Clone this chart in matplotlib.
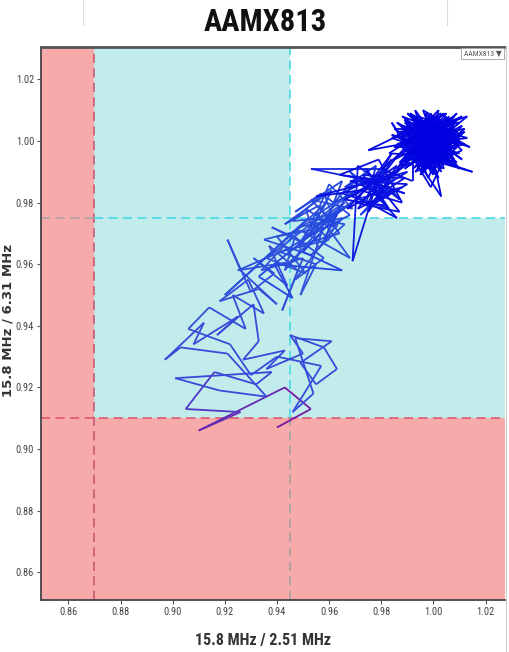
import numpy as np
import matplotlib
matplotlib.use("Agg")
import matplotlib.pyplot as plt
from matplotlib import font_manager
from matplotlib.collections import LineCollection
from matplotlib.colors import LinearSegmentedColormap
from matplotlib.lines import Line2D

title = "AAMX813"
x_label = "15.8 MHz / 2.51 MHz"
y_label = "15.8 MHz / 6.31 MHz"
legend_label = "AAMX813"
x_ticks = [0.86, 0.88, 0.90, 0.92, 0.94, 0.96, 0.98, 1.00, 1.02]
y_ticks = [0.86, 0.88, 0.90, 0.92, 0.94, 0.96, 0.98, 1.00, 1.02]
x_low, x_mid = 0.87, 0.945
y_low, y_mid = 0.91, 0.975

# trajectory pieces (x = 15.8/2.51 ratio, y = 15.8/6.31 ratio), in time order
path_lower = [
    (0.940, 0.907), (0.953, 0.913), (0.943, 0.920), (0.910, 0.906), (0.926, 0.912),
    (0.905, 0.913), (0.916, 0.925), (0.932, 0.921), (0.938, 0.925), (0.901, 0.923),
    (0.918, 0.919), (0.936, 0.917), (0.921, 0.931), (0.903, 0.933), (0.897, 0.929),
    (0.912, 0.941), (0.908, 0.934), (0.925, 0.943), (0.917, 0.937), (0.931, 0.947),
    (0.933, 0.935), (0.927, 0.929), (0.943, 0.932), (0.936, 0.926), (0.950, 0.931),
    (0.945, 0.937), (0.958, 0.933), (0.963, 0.926), (0.955, 0.921), (0.949, 0.928),
    (0.961, 0.935), (0.947, 0.936), (0.954, 0.918), (0.946, 0.912), (0.957, 0.927),
    (0.940, 0.930), (0.930, 0.924), (0.922, 0.934), (0.906, 0.939), (0.914, 0.946),
    (0.928, 0.939), (0.923, 0.950), (0.935, 0.944), (0.929, 0.955), (0.918, 0.948),
    (0.933, 0.952), (0.940, 0.947), (0.926, 0.958), (0.921, 0.968), (0.930, 0.951),
]
path_middle = [
    (0.939, 0.957), (0.931, 0.962), (0.944, 0.953), (0.937, 0.966), (0.948, 0.958),
    (0.942, 0.945), (0.950, 0.962), (0.934, 0.958), (0.946, 0.969), (0.938, 0.972),
    (0.952, 0.966), (0.944, 0.960), (0.957, 0.970), (0.949, 0.950), (0.955, 0.960),
    (0.941, 0.964), (0.960, 0.968), (0.953, 0.974), (0.945, 0.970), (0.958, 0.962),
    (0.947, 0.955), (0.962, 0.972), (0.951, 0.978), (0.956, 0.965), (0.965, 0.975),
    (0.948, 0.972), (0.943, 0.958), (0.954, 0.969), (0.961, 0.977), (0.950, 0.968),
    (0.966, 0.980), (0.957, 0.975), (0.946, 0.974), (0.958, 0.983), (0.963, 0.972),
    (0.953, 0.981), (0.969, 0.978), (0.960, 0.986), (0.955, 0.976), (0.970, 0.984),
]
path_middle_back = [
    (0.936, 0.962), (0.951, 0.957), (0.940, 0.969), (0.958, 0.972), (0.944, 0.965),
    (0.925, 0.958), (0.947, 0.961), (0.955, 0.977), (0.968, 0.962), (0.949, 0.971),
    (0.935, 0.968), (0.953, 0.963), (0.966, 0.973), (0.952, 0.975), (0.920, 0.950),
    (0.959, 0.980), (0.948, 0.966), (0.964, 0.970), (0.956, 0.979), (0.943, 0.973),
    (0.961, 0.984), (0.952, 0.969), (0.968, 0.976), (0.957, 0.983), (0.947, 0.977),
    (0.965, 0.987), (0.959, 0.974), (0.972, 0.982), (0.954, 0.972), (0.967, 0.979),
    (0.933, 0.956), (0.946, 0.949), (0.939, 0.960), (0.965, 0.958), (0.950, 0.964),
    (0.963, 0.976), (0.958, 0.968), (0.970, 0.988), (0.962, 0.980), (0.974, 0.985),
]
path_secondary = [
    (0.968, 0.990), (0.980, 0.982), (0.972, 0.976), (0.985, 0.988), (0.966, 0.985),
    (0.978, 0.992), (0.974, 0.979), (0.988, 0.985), (0.970, 0.981), (0.982, 0.991),
    (0.953, 0.991), (0.976, 0.987), (0.983, 0.978), (0.965, 0.983), (0.979, 0.989),
    (0.987, 0.981), (0.971, 0.992), (0.969, 0.961), (0.977, 0.983), (0.990, 0.990),
    (0.973, 0.986), (0.955, 0.982), (0.981, 0.985), (0.967, 0.978), (0.984, 0.994),
    (0.975, 0.980), (0.986, 0.975), (0.972, 0.988), (0.989, 0.983), (0.978, 0.986),
]
path_secondary_back = [
    (0.980, 0.988), (0.969, 0.982), (0.986, 0.992), (0.975, 0.977), (0.983, 0.987),
    (0.964, 0.989), (0.979, 0.994), (0.988, 0.980), (0.972, 0.984), (0.985, 0.990),
    (0.976, 0.979), (0.990, 0.986), (0.968, 0.987), (0.981, 0.983), (0.974, 0.991),
    (0.987, 0.977), (0.970, 0.980), (0.984, 0.996), (0.977, 0.985), (0.991, 0.993),
    (0.966, 0.981), (0.982, 0.979), (0.973, 0.989), (0.989, 0.988), (0.978, 0.982),
    (0.985, 0.984), (0.971, 0.978), (0.986, 0.995), (0.980, 0.991), (0.992, 0.987),
]
path_cluster = [
    (0.992, 0.996), (1.003, 1.001), (0.996, 0.993), (1.006, 0.998), (0.990, 1.002),
    (0.999, 1.005), (1.004, 0.995), (0.994, 0.999), (1.009, 1.003), (0.997, 0.991),
    (0.988, 0.998), (1.001, 1.007), (0.995, 0.994), (1.007, 1.000), (0.993, 1.004),
    (1.002, 0.992), (0.998, 1.001), (0.986, 0.995), (1.005, 1.006), (0.996, 0.998),
    (1.010, 0.996), (0.991, 1.000), (1.000, 0.989), (0.997, 1.003), (1.004, 0.999),
    (0.989, 0.993), (1.008, 1.004), (0.994, 1.008), (1.001, 0.996), (0.992, 0.991),
    (1.006, 1.002), (0.998, 0.997), (0.984, 1.001), (1.003, 1.009), (0.995, 0.995),
    (1.012, 0.999), (0.999, 1.002), (0.990, 0.997), (1.005, 0.993), (0.993, 1.005),
    (1.002, 1.000), (0.996, 0.990), (1.009, 1.007), (0.987, 0.999), (1.000, 1.004),
    (0.994, 0.996), (1.015, 0.990), (0.998, 0.994), (1.003, 1.003), (0.991, 1.009),
    (1.007, 0.997), (0.995, 1.001), (0.999, 0.992), (1.004, 1.006), (0.988, 1.003),
    (1.001, 0.998), (0.997, 1.006), (1.011, 1.002), (0.993, 0.993), (1.005, 1.000),
    (0.996, 1.003), (0.983, 0.996), (1.002, 0.995), (0.998, 1.008), (1.008, 0.994),
    (0.990, 0.999), (1.000, 1.002), (0.994, 0.991), (1.006, 1.004), (0.997, 0.997),
    (1.013, 1.008), (0.992, 1.002), (1.003, 0.990), (0.999, 1.000), (0.989, 1.006),
    (1.005, 0.998), (0.995, 0.993), (1.010, 1.001), (0.998, 1.004), (0.993, 0.997),
    (1.002, 1.006), (0.987, 0.992), (1.007, 0.996), (0.996, 1.002), (1.001, 0.993),
    (0.994, 1.007), (1.009, 0.999), (0.999, 0.995), (0.991, 1.001), (1.004, 1.003),
    (0.997, 0.999), (0.985, 0.989), (1.006, 1.008), (1.000, 0.997), (0.992, 1.004),
    (1.003, 0.998), (0.996, 0.995), (1.008, 1.002), (0.990, 0.998), (1.001, 1.001),
    (0.975, 0.997), (0.997, 1.006), (1.003, 0.982), (0.984, 1.006), (0.999, 0.985),
    (1.005, 0.996), (0.995, 1.000), (1.002, 0.998),
]
path_cluster_late = [
    (0.985, 0.998), (1.006, 1.004), (0.993, 0.990), (1.011, 0.997), (0.997, 1.007),
    (0.988, 1.001), (1.004, 0.991), (0.999, 1.009), (0.990, 0.994), (1.008, 1.001),
    (0.994, 1.004), (1.002, 0.988), (0.987, 1.003), (1.010, 1.006), (0.996, 0.996),
    (1.005, 1.008), (0.991, 0.992), (1.001, 1.003), (0.986, 0.999), (1.009, 0.993),
    (0.998, 1.002), (0.992, 1.008), (1.007, 0.999), (0.995, 0.989), (1.003, 1.005),
    (0.989, 0.997), (1.012, 1.003), (0.997, 0.993), (1.000, 1.008), (0.990, 1.004),
    (1.006, 0.995), (0.994, 1.001), (1.004, 1.009), (0.987, 0.993), (1.009, 0.998),
    (0.999, 0.990), (0.993, 1.006), (1.002, 0.997), (0.996, 1.010), (1.008, 1.004),
    (0.985, 1.004), (1.003, 0.994), (0.995, 1.002), (1.011, 1.008), (0.991, 0.996),
    (1.005, 1.001), (0.998, 0.988), (0.989, 1.007), (1.007, 0.992), (1.000, 1.005),
    (0.992, 0.999), (1.010, 1.002), (0.997, 1.004), (0.986, 0.991), (1.004, 1.006),
    (0.994, 0.994), (1.009, 0.996), (0.999, 1.001), (0.990, 1.009), (1.006, 0.999),
    (0.996, 0.992), (1.002, 1.010), (0.988, 0.998), (1.013, 1.001), (0.995, 1.005),
    (1.003, 0.991), (0.993, 1.003), (1.007, 1.007), (0.998, 0.997), (0.984, 1.002),
    (1.005, 0.997), (0.991, 1.005), (1.001, 0.994), (0.997, 1.009), (1.010, 0.999),
    (0.989, 0.995), (1.004, 1.003), (0.995, 0.990), (1.008, 1.006), (0.993, 1.000),
    (0.999, 1.006), (1.006, 0.993), (0.987, 1.001), (1.002, 1.008), (0.994, 0.997),
    (1.011, 1.005), (0.998, 0.992), (0.990, 1.006), (1.005, 1.002), (0.996, 0.999),
    (1.009, 1.009), (0.992, 0.993), (1.003, 1.001), (0.988, 1.005), (1.007, 0.995),
    (0.997, 1.003), (1.014, 0.998), (0.995, 1.007), (1.001, 0.990), (0.991, 0.998),
    (1.006, 1.006), (0.999, 0.996), (0.986, 1.006), (1.004, 0.998), (0.994, 1.002),
    (1.010, 0.991), (0.997, 1.005), (1.002, 1.000), (0.989, 0.991), (1.008, 1.003),
    (0.993, 1.007), (1.001, 0.995), (0.996, 1.001), (1.012, 1.004), (0.998, 0.994),
    (0.990, 1.002), (1.005, 1.009), (0.995, 0.998), (1.003, 0.993), (0.992, 1.004),
    (1.007, 1.000), (0.998, 1.006), (0.985, 0.994), (1.004, 1.002), (0.996, 0.991),
    (1.009, 1.007), (0.994, 0.999), (1.000, 1.004), (0.988, 1.008), (1.006, 0.997),
    (0.997, 1.000), (1.003, 1.007), (0.991, 0.996), (1.010, 1.000), (0.999, 0.993),
    (0.993, 1.010), (1.005, 0.996), (0.996, 1.003), (1.002, 0.999), (0.994, 0.995),
    (1.008, 1.008), (0.990, 1.000), (1.001, 1.006), (0.997, 0.995), (1.006, 1.001),
    (0.992, 1.006), (1.011, 0.994), (0.998, 1.002), (1.003, 0.997), (0.996, 1.001),
]

# ---- font choice: a narrow face if one is installed
ttf = font_manager.fontManager.ttflist
names = {f.name for f in ttf}
narrow_family, narrow_stretch = "Liberation Sans", "normal"
sizes = dict(title=19, xlabel=9.5, ticks=6.5, legend=5)
for cand in ["Liberation Sans Narrow", "Roboto Condensed", "Open Sans Condensed",
             "Noto Sans Condensed", "Arial Narrow"]:
    if cand in names:
        narrow_family = cand
        sizes = dict(title=22, xlabel=11.5, ticks=7.5, legend=5.5)
        break
else:
    if any(f.name == "DejaVu Sans" and str(f.stretch) in ("condensed", "semi-condensed")
           for f in ttf):
        narrow_family, narrow_stretch = "DejaVu Sans", "condensed"
        sizes = dict(title=18, xlabel=9.5, ticks=6.5, legend=5)
narrow = [narrow_family, "DejaVu Sans"]

fig = plt.figure(figsize=(5.10, 6.52), dpi=100)
ax = fig.add_axes([0.0804, 0.0798, 0.910, 0.848])
xlim = (0.8495, 1.0275)
ylim = (0.8510, 1.0305)
ax.set_xlim(*xlim)
ax.set_ylim(*ylim)

red = "#f6aaaa"
cyan = "#c2ecec"
ax.axvspan(xlim[0], x_low, color=red, lw=0, zorder=0)
ax.axhspan(ylim[0], y_low, color=red, lw=0, zorder=0)
ax.fill_between([x_low, xlim[1]], y_low, y_mid, color=cyan, lw=0, zorder=0)
ax.fill_between([x_low, x_mid], y_mid, ylim[1], color=cyan, lw=0, zorder=0)

dash = (0, (6, 3.5))
ax.plot([x_low, x_low], ylim, color="#c8506a", lw=1.1, ls=dash, zorder=1)
ax.plot([xlim[0], x_low], [y_mid, y_mid], color="#a8a0a8", lw=1.1, ls=dash, zorder=1)
ax.plot([x_low, xlim[1]], [y_mid, y_mid], color="#3cd6e4", lw=1.1, ls=dash, zorder=1)
ax.plot(xlim, [y_low, y_low], color="#e0506a", lw=1.1, ls=dash, zorder=1)
ax.plot([x_mid, x_mid], [y_low, ylim[1]], color="#3cd6e4", lw=1.1, ls=dash, zorder=1)
ax.plot([x_mid, x_mid], [ylim[0], y_low], color="#a0a0a0", lw=1.1, ls=dash, zorder=1)

path = (path_lower + path_middle + path_middle_back + path_secondary
        + path_secondary_back + path_cluster + path_cluster_late)
pts = np.array(path)
segs = np.stack([pts[:-1], pts[1:]], axis=1)
cmap = LinearSegmentedColormap.from_list(
    "traj", [(0.0, "#7a1aa0"), (0.012, "#3a48d8"), (0.2, "#2f55dc"),
             (0.28, "#2244e0"), (0.34, "#0a10e0"), (1.0, "#0000e0")])
t = np.linspace(0, 1, len(segs))
lc = LineCollection(segs, colors=cmap(t), linewidths=1.3, zorder=3)
ax.add_collection(lc)

ax.set_xticks(x_ticks)
ax.set_yticks(y_ticks)
tick_kw = dict(family=narrow, fontstretch=narrow_stretch, fontsize=sizes["ticks"], color="#444444")
ax.set_xticklabels([f"{v:.2f}" for v in x_ticks], **tick_kw)
ax.set_yticklabels([f"{v:.2f}" for v in y_ticks], **tick_kw)
ax.tick_params(direction="out", length=3, width=0.8, color="#555555", pad=2)
for s in ["left", "bottom"]:
    ax.spines[s].set_color("#444444")
    ax.spines[s].set_linewidth(1.3)
ax.spines["top"].set_color("#555555")
ax.spines["top"].set_linewidth(2.0)
ax.spines["right"].set_visible(False)

fig.text(0.520, 0.966, title, ha="center", va="center", family=narrow,
         fontstretch=narrow_stretch, fontweight="bold", fontsize=sizes["title"],
         color="#111111")
fig.text(0.516, 0.018, x_label, ha="center", va="center", family=narrow,
         fontstretch=narrow_stretch, fontweight="bold", fontsize=sizes["xlabel"],
         color="#333333")
fig.text(0.016, 0.508, y_label, ha="center", va="center", rotation=90,
         family="DejaVu Sans", fontweight="bold", fontsize=9.5, color="#333333")

fig.text(0.946, 0.918, legend_label + " \u25BC", ha="center", va="center",
         family=narrow, fontstretch=narrow_stretch, fontsize=sizes["legend"],
         color="#555555",
         bbox=dict(boxstyle="square,pad=0.35", fc="white", ec="#aaaaaa", lw=0.7))

fig.add_artist(Line2D([83 / 510, 83 / 510], [1.0, 0.962], color="#dddddd", lw=0.8))
fig.add_artist(Line2D([447 / 510, 447 / 510], [1.0, 0.962], color="#dddddd", lw=0.8))
fig.add_artist(Line2D([0.993, 0.993], [0.0, 0.93], color="#cccccc", lw=0.8))

fig.savefig("out.png", dpi=100)
